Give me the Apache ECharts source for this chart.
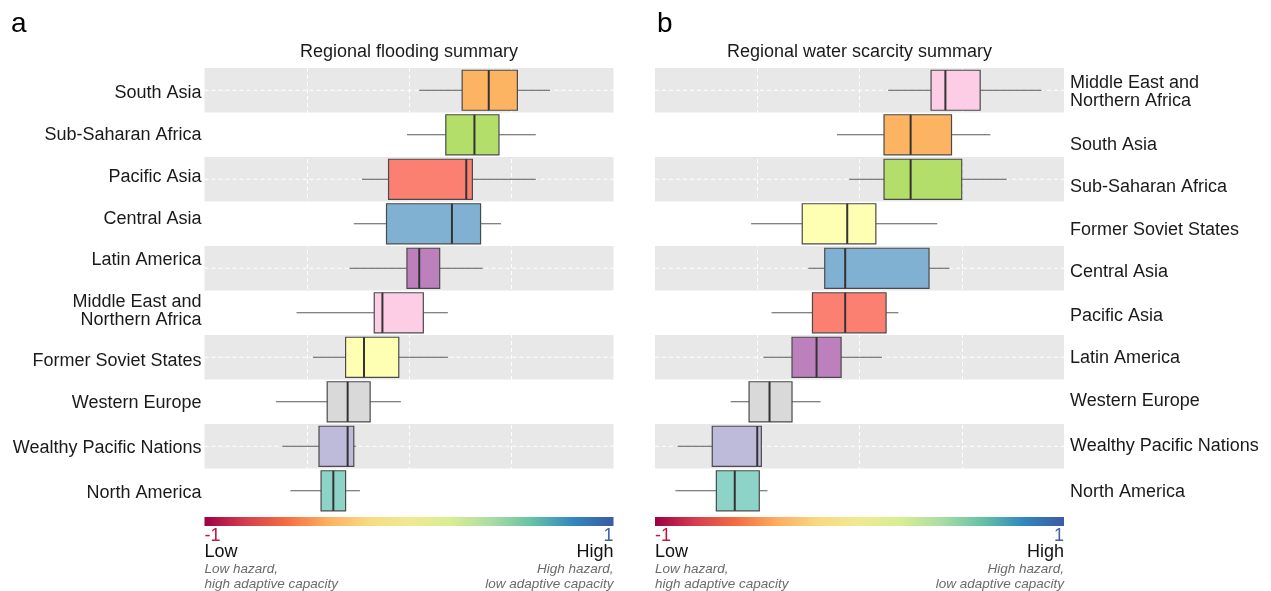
<!DOCTYPE html>
<html>
<head>
<meta charset="utf-8">
<script src="https://cdn.jsdelivr.net/npm/echarts@6/dist/echarts.min.js"></script>
<style>
  html, body { margin: 0; padding: 0; background: #fff; }
  #chart { width: 1271px; height: 591px; }
</style>
</head>
<body>
<div id="chart"></div>
<script>
// Regions, top to bottom, for each panel
const floodRegions = ['South Asia', 'Sub-Saharan Africa', 'Pacific Asia', 'Central Asia', 'Latin America',
  'Middle East and\nNorthern Africa', 'Former Soviet States', 'Western Europe', 'Wealthy Pacific Nations', 'North America'];
const waterRegions = ['Middle East and\nNorthern Africa', 'South Asia', 'Sub-Saharan Africa', 'Former Soviet States',
  'Central Asia', 'Pacific Asia', 'Latin America', 'Western Europe', 'Wealthy Pacific Nations', 'North America'];

// Box statistics per region: [min, Q1, median, Q3, max] on the -1..1 index scale
const floodMin    = [0.05, -0.01, -0.23, -0.27, -0.29, -0.55, -0.47, -0.65, -0.62, -0.58];
const floodQ1     = [0.26, 0.18, -0.10, -0.11, -0.01, -0.17, -0.31, -0.40, -0.44, -0.43];
const floodMedian = [0.39, 0.32, 0.28, 0.21, 0.05, -0.13, -0.22, -0.30, -0.30, -0.37];
const floodQ3     = [0.53, 0.44, 0.31, 0.35, 0.15, 0.07, -0.05, -0.19, -0.27, -0.31];
const floodMax    = [0.69, 0.62, 0.62, 0.45, 0.36, 0.19, 0.19, -0.04, -0.26, -0.24];

const waterMin    = [0.14, -0.11, -0.05, -0.53, -0.25, -0.43, -0.47, -0.63, -0.89, -0.90];
const waterQ1     = [0.35, 0.12, 0.12, -0.28, -0.17, -0.23, -0.33, -0.54, -0.72, -0.70];
const waterMedian = [0.42, 0.25, 0.25, -0.06, -0.07, -0.07, -0.21, -0.44, -0.50, -0.61];
const waterQ3     = [0.59, 0.45, 0.50, 0.08, 0.34, 0.13, -0.09, -0.33, -0.48, -0.49];
const waterMax    = [0.89, 0.64, 0.72, 0.38, 0.44, 0.19, 0.11, -0.19, -0.48, -0.45];

// Fill colour for each region
const regionColors = {
  'South Asia': '#FDB462',
  'Sub-Saharan Africa': '#B3DE69',
  'Pacific Asia': '#FB8072',
  'Central Asia': '#80B1D3',
  'Latin America': '#BC80BD',
  'Middle East and\nNorthern Africa': '#FCCDE5',
  'Former Soviet States': '#FFFFB3',
  'Western Europe': '#D9D9D9',
  'Wealthy Pacific Nations': '#BEBADA',
  'North America': '#8DD3C7'
};

// Index scale ticks
const scaleMin = -1, scaleMax = 1, scaleStep = 0.5;

// Panel geometry
const gridTop = 68, gridHeight = 445, gridWidth = 409;
const leftA = 204.5, leftB = 655;
// Vertical nudge (px) of each region label relative to its row centre
const labelNudgeA = [3, 0, -2, -5, -8, -2, 4, 1, 2, 2];
const labelNudgeB = [2, 10, 8, 6, 4, 3, 1, -1, 0, 1];

const FONT = '"Liberation Sans", Arial, sans-serif';
const LABEL_SIZE = 18;

function buildRows(regions, mins, q1s, meds, q3s, maxs) {
  return regions.map((r, i) => ({
    value: [i, mins[i], q1s[i], meds[i], q3s[i], maxs[i]],
    itemStyle: { color: regionColors[r] }
  }));
}

function renderBox(params, api) {
  const cat = api.value(0);
  const lo = api.coord([api.value(1), cat]);
  const q1 = api.coord([api.value(2), cat]);
  const md = api.coord([api.value(3), cat]);
  const q3 = api.coord([api.value(4), cat]);
  const hi = api.coord([api.value(5), cat]);
  const band = api.size([0, 1])[1];
  const h = band * 0.9;
  const y = lo[1];
  const cs = params.coordSys;
  const fill = api.visual('color');
  return {
    type: 'group',
    children: [
      { type: 'line', shape: { x1: cs.x, y1: y, x2: cs.x + cs.width, y2: y },
        style: { stroke: '#ffffff', lineWidth: 1, lineDash: [4, 3] } },
      { type: 'line', shape: { x1: lo[0], y1: y, x2: q1[0], y2: y },
        style: { stroke: '#5a5a5a', lineWidth: 1 } },
      { type: 'line', shape: { x1: q3[0], y1: y, x2: hi[0], y2: y },
        style: { stroke: '#5a5a5a', lineWidth: 1 } },
      { type: 'rect', shape: { x: q1[0], y: y - h / 2, width: q3[0] - q1[0], height: h },
        style: { fill: fill, stroke: '#4a4a4a', lineWidth: 1.2 } },
      { type: 'line', shape: { x1: md[0], y1: y - h / 2, x2: md[0], y2: y + h / 2 },
        style: { stroke: '#333333', lineWidth: 2 } }
    ]
  };
}

function xAxisFor(idx) {
  return {
    gridIndex: idx, type: 'value', min: scaleMin, max: scaleMax, interval: scaleStep,
    axisLine: { show: false }, axisTick: { show: false }, axisLabel: { show: false },
    splitLine: { show: true, showMinLine: false, showMaxLine: false,
      lineStyle: { color: '#ffffff', type: [4, 3], width: 1 } }
  };
}

// Rich styles that shift each label up or down by padding one side
function nudgeRich(nudges) {
  const base = { fontSize: LABEL_SIZE, fontFamily: FONT, color: '#1a1a1a' };
  const rich = {};
  nudges.forEach((d, i) => {
    rich['t' + i] = Object.assign({}, base, { padding: [d > 0 ? 2 * d : 0, 0, 0, 0] });
    rich['b' + i] = Object.assign({}, base, { padding: [0, 0, d < 0 ? -2 * d : 0, 0] });
  });
  return rich;
}

function yAxisFor(idx, regions, nudges, position, align, margin) {
  return {
    gridIndex: idx, type: 'category', data: regions, inverse: true, position: position,
    axisLine: { show: false }, axisTick: { show: false },
    axisLabel: {
      color: '#1a1a1a', fontSize: LABEL_SIZE, fontFamily: FONT, align: align, margin: margin,
      formatter: (v, i) => {
        const lines = v.split('\n');
        if (lines.length === 1) return '{' + (nudges[i] > 0 ? 't' : 'b') + i + '|' + v + '}';
        return '{t' + i + '|' + lines[0] + '}\n{b' + i + '|' + lines[1] + '}';
      },
      rich: nudgeRich(nudges)
    },
    splitLine: { show: false },
    splitArea: { show: true, areaStyle: { color: ['#e8e8e8', 'rgba(255,255,255,0)'] } }
  };
}

const spectral = ['#9E0142', '#D53E4F', '#F46D43', '#FDAE61', '#F8DA80', '#EFEA92',
  '#D8EE92', '#ABDDA4', '#66C2A5', '#3288BD', '#3B5BA3'];

function colorbar(left) {
  const stops = spectral.map((c, i) => ({ offset: i / (spectral.length - 1), color: c }));
  const right = left + gridWidth;
  return [
    { type: 'rect', shape: { x: left, y: 517, width: gridWidth, height: 9 },
      style: { fill: new echarts.graphic.LinearGradient(0, 0, 1, 0, stops) } },
    { type: 'text', x: left, y: 527, style: { text: '-1', fill: '#c4143f', font: '18px ' + FONT } },
    { type: 'text', x: right, y: 527, style: { text: '1', fill: '#4560aa', font: '18px ' + FONT, textAlign: 'right' } },
    { type: 'text', x: left, y: 543, style: { text: 'Low', fill: '#111', font: '18px ' + FONT } },
    { type: 'text', x: right, y: 543, style: { text: 'High', fill: '#111', font: '18px ' + FONT, textAlign: 'right' } },
    { type: 'text', x: left, y: 562, style: { text: 'Low hazard,\nhigh adaptive capacity', fill: '#6a6a6a',
      font: 'italic 13.5px ' + FONT, lineHeight: 14.5 } },
    { type: 'text', x: right, y: 562, style: { text: 'High hazard,\nlow adaptive capacity', fill: '#6a6a6a',
      font: 'italic 13.5px ' + FONT, lineHeight: 14.5, textAlign: 'right' } }
  ];
}

const chart = echarts.init(document.getElementById('chart'), null, { renderer: 'canvas' });

chart.setOption({
  animation: false,
  backgroundColor: '#ffffff',
  grid: [
    { left: leftA, top: gridTop, width: gridWidth, height: gridHeight },
    { left: leftB, top: gridTop, width: gridWidth, height: gridHeight }
  ],
  xAxis: [xAxisFor(0), xAxisFor(1)],
  yAxis: [
    yAxisFor(0, floodRegions, labelNudgeA, 'left', 'right', 3),
    yAxisFor(1, waterRegions, labelNudgeB, 'right', 'left', 6)
  ],
  graphic: [
    { type: 'text', x: 11, y: 10, style: { text: 'a', fill: '#000', font: '28px ' + FONT } },
    { type: 'text', x: 657, y: 10, style: { text: 'b', fill: '#000', font: '28px ' + FONT } },
    { type: 'text', x: leftA + gridWidth / 2, y: 43, style: { text: 'Regional flooding summary', fill: '#1a1a1a',
      font: '18px ' + FONT, textAlign: 'center' } },
    { type: 'text', x: leftB + gridWidth / 2, y: 43, style: { text: 'Regional water scarcity summary', fill: '#1a1a1a',
      font: '18px ' + FONT, textAlign: 'center' } },
    ...colorbar(leftA),
    ...colorbar(leftB)
  ],
  series: [
    {
      type: 'custom', xAxisIndex: 0, yAxisIndex: 0, renderItem: renderBox,
      encode: { x: [1, 2, 3, 4, 5], y: 0 },
      data: buildRows(floodRegions, floodMin, floodQ1, floodMedian, floodQ3, floodMax)
    },
    {
      type: 'custom', xAxisIndex: 1, yAxisIndex: 1, renderItem: renderBox,
      encode: { x: [1, 2, 3, 4, 5], y: 0 },
      data: buildRows(waterRegions, waterMin, waterQ1, waterMedian, waterQ3, waterMax)
    }
  ]
});
</script>
</body>
</html>
